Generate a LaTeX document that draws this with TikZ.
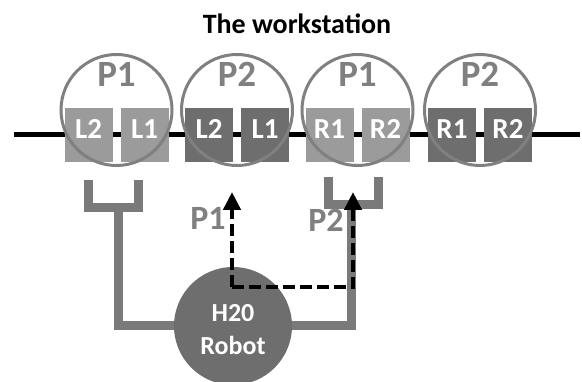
\documentclass[tikz,border=0pt]{standalone}
\usepackage{fontspec}
\setmainfont{Carlito}
\usetikzlibrary{arrows.meta}

\definecolor{hellgrau}{HTML}{9B9B9B}
\definecolor{dunkelgrau}{HTML}{6E6E6E}
\definecolor{rahmengrau}{HTML}{808080}
\definecolor{gabelgrau}{HTML}{7A7A7A}

\begin{document}
\begin{tikzpicture}[x=1pt,y=-1pt,
	feld/.style={minimum width=48pt,minimum height=54pt,inner sep=0pt,text=white,
		font=\fontsize{29}{29}\selectfont\bfseries,text height=0.64em,text depth=0pt},
	hellfeld/.style={feld,fill=hellgrau},
	dunkelfeld/.style={feld,fill=dunkelgrau},
	station/.style={circle,draw=rahmengrau,line width=3pt,minimum size=111pt,inner sep=0pt},
	pname/.style={text=rahmengrau,font=\fontsize{37}{37}\selectfont\bfseries,
		inner sep=0pt,text height=0.64em,text depth=0pt},
	gabel/.style={draw=gabelgrau,line width=9pt},
	pfeil/.style={draw=black,line width=4.5pt,dash pattern=on 12pt off 5pt,
		-{Triangle[width=17pt,length=18pt]}}]
			\useasboundingbox (0,0) rectangle (582,382);

			% Titel
			\node[font=\fontsize{28}{28}\selectfont\bfseries] (titel) at (297,24) {The workstation};

			% Schiene
			\coordinate (schieneA) at (14,134.5);
			\coordinate (schieneB) at (580,134.5);
			\draw[line width=5pt] (schieneA) -- (schieneB);

			% Felder der Station 1
			\node[hellfeld] (f1a) at (88.5,135) {L2};
			\node[hellfeld] (f1b) at (144.5,135) {L1};

			% Felder der Station 2
			\node[dunkelfeld] (f2a) at (209,135) {L2};
			\node[dunkelfeld] (f2b) at (265,135) {L1};

			% Felder der Station 3
			\node[hellfeld] (f3a) at (329.5,135) {R1};
			\node[hellfeld] (f3b) at (385.5,135) {R2};

			% Felder der Station 4
			\node[dunkelfeld] (f4a) at (452,135) {R1};
			\node[dunkelfeld] (f4b) at (508,135) {R2};

			% Kreise mit Beschriftung
			\node[station] (s1) at (116.5,110) {};
			\node[station] (s2) at (237,110) {};
			\node[station] (s3) at (357.5,110) {};
			\node[station] (s4) at (480,110) {};
			\node[pname] (s1name) at (116.5,83) {P1};
			\node[pname] (s2name) at (237,83) {P2};
			\node[pname] (s3name) at (357.5,83) {P1};
			\node[pname] (s4name) at (480,83) {P2};

			% Linker Greifer
			\coordinate (robotmitte) at (233,326);
			\coordinate (linksA) at (88.5,180);
			\coordinate (linksB) at (138.5,180);
			\coordinate (linksM) at (118,208);
			\draw[gabel] (linksA) |- (linksM) -| (linksB);
			\draw[gabel] (linksM) |- (robotmitte);

			% Rechter Greifer
			\coordinate (rechtsA) at (328.5,177);
			\coordinate (rechtsB) at (378.5,177);
			\coordinate (rechtsM) at (351,205);
			\draw[gabel] (rechtsA) |- (rechtsM) -| (rechtsB);
			\draw[gabel] (rechtsM) |- (robotmitte);

			% Roboter
			\node[circle,fill=dunkelgrau,minimum size=118pt,inner sep=0pt] (robot) at (robotmitte) {};
			\node[text=white,font=\fontsize{26}{33}\selectfont\bfseries,align=center] (robotname) at (233,330) {H20\\Robot};

			% Bewegungen (gestrichelt)
			\coordinate (start) at (232,287);
			\coordinate (ziel1) at (232,192);
			\coordinate (ecke) at (353,287);
			\coordinate (ziel2) at (353,192);
			\draw[pfeil] (start) -- (ziel1);
			\draw[pfeil] (start) -- (ecke) -- (ziel2);
			\node[pname,font=\fontsize{34}{34}\selectfont\bfseries] (pfeil1name) at (208,226) {P1};
			\node[pname,font=\fontsize{34}{34}\selectfont\bfseries] (pfeil2name) at (326,228) {P2};
		\end{tikzpicture}
\end{document}
